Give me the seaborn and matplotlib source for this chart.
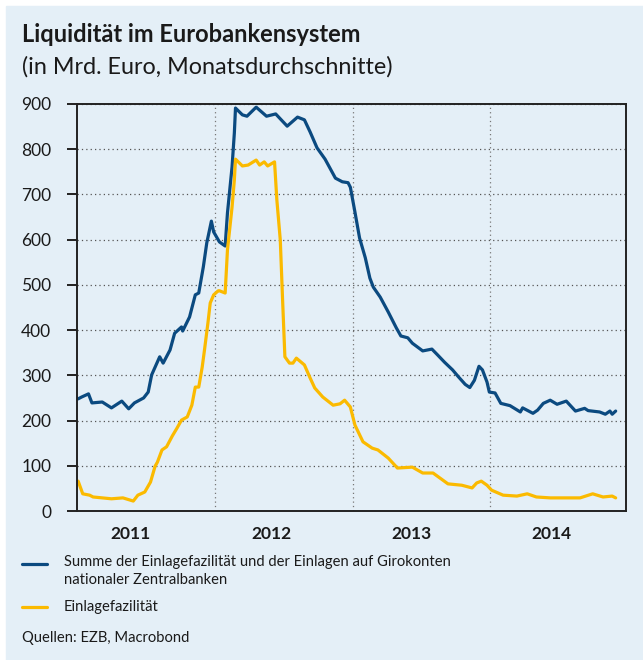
import numpy as np
import pandas as pd
import seaborn as sns
import matplotlib.pyplot as plt
from matplotlib.lines import Line2D
from matplotlib.patches import Rectangle

# x = Monate seit Januar 2011, Werte in Mrd. Euro
summe_monat = [0.1, 0.4, 1.0, 1.3, 2.2, 3.0, 3.9, 4.5, 5.0, 5.8, 6.2, 6.5, 7.2, 7.5, 8.1,
               8.5, 9.1, 9.2, 9.8, 10.3, 10.6, 11.0, 11.3, 11.7, 11.9, 12.4, 12.9, 13.1,
               13.5, 13.7, 13.8, 14.4, 14.8, 15.6, 16.5, 17.3, 18.3, 19.2, 19.8, 20.3,
               20.9, 21.6, 22.5, 23.1, 23.6, 23.8, 24.2, 24.6, 25.1, 25.5, 25.8, 26.4,
               27.1, 27.8, 28.2, 28.8, 29.2, 30.1, 30.9, 31.4, 32.0, 32.7, 33.2, 33.8,
               34.2, 34.6, 35.0, 35.3, 35.7, 35.9, 36.4, 36.9, 37.7, 38.6, 38.8, 39.7,
               40.1, 40.6, 41.2, 41.8, 42.6, 43.4, 44.2, 44.5, 45.5, 46.0, 46.4, 46.6, 46.9]
summe_wert = [248, 252, 259, 239, 241, 228, 243, 226, 239, 250, 263, 301, 341, 327, 356,
              393, 407, 398, 429, 478, 482, 540, 593, 641, 617, 595, 586, 659,
              761, 836, 891, 876, 873, 893, 873, 878, 851, 871, 865, 838,
              803, 778, 736, 728, 726, 716, 661, 604, 560, 515, 495, 473,
              440, 405, 387, 383, 371, 354, 358, 345, 329, 312, 297, 280,
              273, 289, 320, 312, 285, 263, 261, 238, 233, 219, 228, 216,
              223, 238, 245, 236, 243, 221, 227, 222, 219, 214, 221, 214, 221]

ezf_monat = [0.1, 0.5, 1.1, 1.4, 2.2, 3.0, 4.0, 4.9, 5.3, 5.9, 6.4, 6.8, 7.0, 7.4, 7.8,
             8.3, 8.7, 9.1, 9.6, 10.0, 10.3, 10.6, 10.9, 11.1, 11.4, 11.6, 11.9, 12.3,
             12.4, 12.9, 13.1, 13.5, 13.7, 13.8, 14.4, 14.9, 15.6, 15.9, 16.3, 16.6,
             17.2, 17.4, 17.7, 17.9, 18.1, 18.5, 18.8, 19.1, 19.8, 20.3, 20.7, 21.4,
             22.3, 22.9, 23.3, 23.8, 24.2, 24.9, 25.7, 26.2, 27.1, 27.9, 29.2, 30.1,
             31.0, 32.3, 33.5, 34.4, 34.8, 35.2, 35.7, 36.1, 37.1, 38.3, 39.2, 40.0,
             41.2, 42.3, 43.8, 44.9, 45.8, 46.6, 46.9]
ezf_wert = [66, 38, 35, 31, 29, 27, 29, 22, 35, 42, 64, 99, 108, 135, 142,
            166, 183, 201, 208, 234, 274, 274, 318, 356, 416, 460, 478, 487,
            487, 482, 577, 672, 732, 778, 763, 765, 776, 765, 772, 763,
            772, 688, 599, 467, 341, 327, 327, 338, 323, 294, 272, 252,
            234, 237, 245, 230, 190, 153, 139, 135, 117, 95, 97, 84,
            84, 60, 57, 51, 62, 66, 57, 46, 35, 33, 38, 31,
            29, 29, 29, 38, 31, 33, 29]

jahre = ['2011', '2012', '2013', '2014']
jahr_pos = [4.7, 16.9, 29.1, 41.3]
jahr_grenzen = [12, 24, 36]
y_ticks = list(range(0, 901, 100))

label_summe = 'Summe der Einlagefazilität und der Einlagen auf Girokonten\nnationaler Zentralbanken'
label_ezf = 'Einlagefazilität'

blau = '#0b4a80'
gelb = '#fbba00'
hintergrund = '#e4eff7'

df = pd.concat([
    pd.DataFrame({'monat': summe_monat, 'wert': summe_wert, 'reihe': 'summe'}),
    pd.DataFrame({'monat': ezf_monat, 'wert': ezf_wert, 'reihe': 'ezf'}),
])

sns.set_style('ticks')
plt.rcParams['font.family'] = ['Lato', 'DejaVu Sans']

fig = plt.figure(figsize=(6.43, 6.60), dpi=100)
fig.patch.set_facecolor('white')
fig.add_artist(Rectangle((6 / 643, 0), 1, 1 - 6 / 660, transform=fig.transFigure,
                         color=hintergrund, zorder=-10))

ax = fig.add_axes([77 / 643, 1 - 511 / 660, 549 / 643, 407 / 660])
ax.set_facecolor(hintergrund)

sns.lineplot(data=df, x='monat', y='wert', hue='reihe',
             palette={'summe': blau, 'ezf': gelb}, linewidth=2.3,
             estimator=None, legend=False, ax=ax)

ax.set_xlim(0, 47.8)
ax.set_ylim(0, 900)
ax.set_yticks(y_ticks)
ax.set_xticks(jahr_pos)
ax.set_xticklabels(jahre, fontweight='bold')
ax.set_xticks(jahr_grenzen, minor=True)
ax.set_xlabel('')
ax.set_ylabel('')

ax.tick_params(axis='x', which='both', length=0, pad=11, labelsize=12.5, labelcolor='#1a1a1a')
ax.tick_params(axis='y', length=7.5, width=1.4, pad=11, labelsize=12.5,
               color='#222222', labelcolor='#1a1a1a')

ax.grid(False)
ax.grid(axis='y', which='major', color='#555555', linestyle=(0, (1, 2.5)), linewidth=0.9)
ax.grid(axis='x', which='minor', color='#777777', linestyle=(0, (1, 2.5)), linewidth=0.9)

for s in ax.spines.values():
    s.set_visible(True)
    s.set_color('#222222')
    s.set_linewidth(1.4)

fig.text(22 / 643, 1 - 34 / 660, 'Liquidität im Eurobankensystem', fontsize=17,
         fontweight='bold', va='center', ha='left', color='#1a1a1a')
fig.text(22 / 643, 1 - 67 / 660, '(in Mrd. Euro, Monatsdurchschnitte)', fontsize=16.8,
         va='center', ha='left', color='#1a1a1a')

# Legende
fig.add_artist(Line2D([22 / 643, 47 / 643], [1 - 564 / 660] * 2, color=blau, lw=2.3,
                      transform=fig.transFigure))
fig.text(64 / 643, 1 - 555 / 660, label_summe, fontsize=10.65, va='top', ha='left',
         linespacing=1.4, color='#1a1a1a')
fig.add_artist(Line2D([22 / 643, 47 / 643], [1 - 607 / 660] * 2, color=gelb, lw=2.3,
                      transform=fig.transFigure))
fig.text(64 / 643, 1 - 607 / 660, label_ezf, fontsize=10.65, va='center', ha='left',
         color='#1a1a1a')

fig.text(22 / 643, 1 - 638 / 660, 'Quellen: EZB, Macrobond', fontsize=10.65,
         va='center', ha='left', color='#1a1a1a')

fig.savefig('out.png', dpi=100)
